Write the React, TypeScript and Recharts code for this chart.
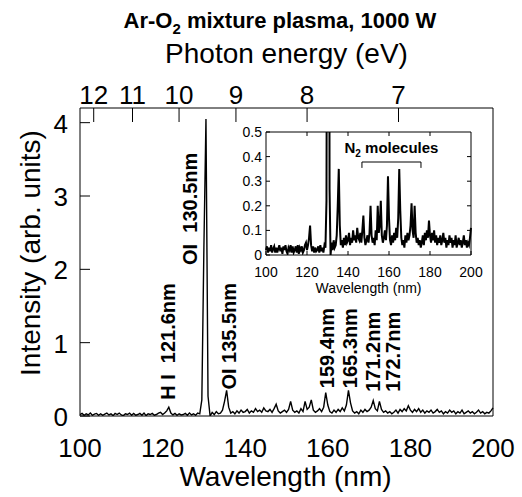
import React from 'react';
import { LineChart, Line, XAxis, YAxis, ReferenceDot, ReferenceLine } from 'recharts';

const FONT = '"Liberation Sans", Arial, Helvetica, sans-serif';

// wavelength grid, 0.5 nm steps 100..200
const wavelengths: number[] = Array.from({ length: 201 }, (_, i) => 100 + i * 0.5);

// intensity (arb. units), 10 values per 5 nm
const intensity: number[] = [
  0.02, 0.035, 0.01, 0.03, 0.015, 0.04, 0.01, 0.025, 0.035, 0.01, // 100
  0.03, 0.01, 0.025, 0.04, 0.015, 0.03, 0.005, 0.035, 0.02, 0.04, // 105
  0.015, 0.005, 0.03, 0.02, 0.04, 0.01, 0.035, 0.01, 0.02, 0.035, // 110
  0.01, 0.04, 0.005, 0.03, 0.02, 0.035, 0.01, 0.02, 0.04, 0.05,   // 115
  0.02, 0.04, 0.07, 0.12, 0.04, 0.015, 0.035, 0.01, 0.03, 0.015,  // 120
  0.02, 0.035, 0.01, 0.04, 0.015, 0.03, 0.01, 0.04, 0.03, 0.22,   // 125
  2.3, 4.05, 0.27, 0.0, 0.05, 0.02, 0.06, 0.03, 0.04, 0.08,       // 130
  0.2, 0.35, 0.12, 0.04, 0.06, 0.03, 0.07, 0.04, 0.08, 0.05,      // 135
  0.06, 0.09, 0.04, 0.07, 0.05, 0.1, 0.06, 0.08, 0.05, 0.11,      // 140
  0.07, 0.06, 0.09, 0.05, 0.1, 0.16, 0.07, 0.04, 0.06, 0.08,      // 145
  0.05, 0.09, 0.2, 0.08, 0.05, 0.07, 0.04, 0.1, 0.06, 0.2,        // 150
  0.09, 0.12, 0.22, 0.08, 0.05, 0.07, 0.1, 0.06, 0.12, 0.32,      // 155
  0.15, 0.06, 0.04, 0.08, 0.05, 0.09, 0.06, 0.11, 0.07, 0.15,     // 160
  0.35, 0.18, 0.07, 0.04, 0.06, 0.03, 0.08, 0.05, 0.09, 0.06,     // 165
  0.08, 0.12, 0.21, 0.1, 0.07, 0.2, 0.09, 0.05, 0.07, 0.04,       // 170
  0.06, 0.03, 0.05, 0.08, 0.04, 0.09, 0.06, 0.1, 0.07, 0.14,      // 175
  0.08, 0.05, 0.09, 0.06, 0.1, 0.05, 0.08, 0.04, 0.07, 0.05,      // 180
  0.08, 0.04, 0.06, 0.09, 0.05, 0.07, 0.03, 0.06, 0.04, 0.08,     // 185
  0.05, 0.07, 0.03, 0.06, 0.04, 0.08, 0.03, 0.05, 0.07, 0.04,     // 190
  0.06, 0.03, 0.05, 0.08, 0.04, 0.06, 0.03, 0.05, 0.04, 0.07,     // 195
  0.11,                                                           // 200
];

const wlTicks = [100, 120, 140, 160, 180, 200];
const yTicks = [0, 1, 2, 3, 4];
const insetYTicks = [0, 0.1, 0.2, 0.3, 0.4, 0.5];
const energyTicksEV = [12, 11, 10, 9, 8, 7];
const energyTickWl = energyTicksEV.map((e) => 1239.84 / e);

// line labels: text, glyph-centre wavelength, value where the text starts
const lineLabels = [
  { text: 'H I  121.6nm', wl: 121.4, y: 0.22 },
  { text: 'OI  130.5nm', wl: 126.6, y: 2.06 },
  { text: 'OI 135.5nm', wl: 136.2, y: 0.36 },
  { text: '159.4nm', wl: 159.8, y: 0.38 },
  { text: '165.3nm', wl: 165.4, y: 0.38 },
  { text: '171.2nm', wl: 170.9, y: 0.33 },
  { text: '172.7nm', wl: 175.8, y: 0.33 },
];

// N2 bracket in the inset
const n2Range = [146.8, 175.6];
const n2BracketY = 0.378;
const n2EndY = 0.354;

const table = wavelengths.map((wl, i) => ({ wl, intensity: intensity[i] }));

const txt = { fontFamily: FONT, fill: '#000' };

const mainBottomTick = (p: any) => (
  <text x={p.x} y={p.y + 41} textAnchor="middle" fontSize={26} {...txt}>{p.payload.value}</text>
);
const mainLeftTick = (p: any) => (
  <g>
    <line x1={p.x} x2={p.x + 10} y1={p.y} y2={p.y} stroke="#000" />
    <text x={p.x - 12} y={p.y + 1} textAnchor="end" dominantBaseline="central" fontSize={26} {...txt}>{p.payload.value}</text>
  </g>
);
const mainTopTick = (p: any) => (
  <g>
    <line x1={p.x} x2={p.x} y1={p.y} y2={p.y + 14} stroke="#000" />
    <text x={p.x} y={p.y - 4} textAnchor="middle" fontSize={26} {...txt}>
      {Math.round(1239.84 / p.payload.value)}
    </text>
  </g>
);

const insetBottomTick = (p: any) => (
  <g>
    <line x1={p.x} x2={p.x} y1={p.y} y2={p.y - 4} stroke="#000" />
    <text x={p.x} y={p.y + 22} textAnchor="middle" fontSize={14} {...txt}>{p.payload.value}</text>
  </g>
);
const insetTopTick = (p: any) => <line x1={p.x} x2={p.x} y1={p.y} y2={p.y + 4} stroke="#000" />;
const insetLeftTick = (p: any) => (
  <g>
    <line x1={p.x} x2={p.x + 4} y1={p.y} y2={p.y} stroke="#000" />
    <text x={p.x - 4} y={p.y} textAnchor="end" dominantBaseline="central" fontSize={14} {...txt}>{p.payload.value}</text>
  </g>
);
const insetRightTick = (p: any) => <line x1={p.x} x2={p.x - 4} y1={p.y} y2={p.y} stroke="#000" />;

const rotatedLabel = (text: string) => (p: any) => (
  <text
    x={p.cx}
    y={p.cy}
    transform={`rotate(-90 ${p.cx} ${p.cy})`}
    dominantBaseline="central"
    fontSize={20}
    fontWeight="bold"
    style={{ whiteSpace: 'pre' }}
    {...txt}
  >
    {text}
  </text>
);

const n2Label = (p: any) => (
  <text x={p.cx} y={p.cy} textAnchor="middle" fontSize={15} fontWeight="bold" {...txt}>
    N<tspan dy={4} fontSize={10}>2</tspan>
    <tspan dy={-4}> molecules</tspan>
  </text>
);

const axisLine = { stroke: '#000', strokeWidth: 1 };

export default function App() {
  return (
    <div style={{ position: 'absolute', left: 0, top: 0, width: 522, height: 497, background: '#fff' }}>
      <LineChart width={522} height={497} data={table} margin={{ top: 107, right: 28, bottom: 80, left: 79 }}>
        <XAxis xAxisId="b" dataKey="wl" type="number" domain={[100, 200]} ticks={wlTicks} interval={0}
          height={1} tickSize={0} tickMargin={0} tickLine={false} axisLine={axisLine} tick={mainBottomTick} />
        <XAxis xAxisId="t" dataKey="wl" orientation="top" type="number" domain={[100, 200]} ticks={energyTickWl} interval={0}
          allowDataOverflow height={1} tickSize={0} tickMargin={0} tickLine={false} axisLine={axisLine} tick={mainTopTick} />
        <YAxis yAxisId="l" type="number" domain={[0, 4.2]} ticks={yTicks} interval={0} allowDataOverflow
          width={1} tickSize={0} tickMargin={0} tickLine={false} axisLine={axisLine} tick={mainLeftTick} />
        <YAxis yAxisId="r" orientation="right" type="number" domain={[0, 4.2]} allowDataOverflow
          width={1} tickLine={false} axisLine={axisLine} tick={false} />
        <Line xAxisId="b" yAxisId="l" dataKey="intensity" type="linear" stroke="#000" strokeWidth={1.4}
          dot={false} isAnimationActive={false} />
        {/* binds the photon-energy axis to the same wavelength data; draws nothing */}
        <Line xAxisId="t" yAxisId="r" dataKey="intensity" stroke="none" dot={false} activeDot={false}
          legendType="none" isAnimationActive={false} />
        {lineLabels.map((l) => (
          <ReferenceDot key={l.text} xAxisId="b" yAxisId="l" x={l.wl} y={l.y} shape={rotatedLabel(l.text)} />
        ))}
      </LineChart>

      <div style={{ position: 'absolute', left: 230, top: 110 }}>
        <LineChart width={260} height={200} data={table} margin={{ top: 21, right: 18, bottom: 54, left: 35 }}>
          <XAxis xAxisId="b" dataKey="wl" type="number" domain={[100, 200]} ticks={wlTicks} interval={0}
            height={1} tickSize={0} tickMargin={0} tickLine={false} axisLine={axisLine} tick={insetBottomTick} />
          <XAxis xAxisId="t" dataKey="wl" orientation="top" type="number" domain={[100, 200]} ticks={wlTicks.slice(1, -1)} interval={0}
            allowDataOverflow height={1} tickSize={0} tickMargin={0} tickLine={false} axisLine={axisLine} tick={insetTopTick} />
          <YAxis yAxisId="l" type="number" domain={[0, 0.5]} ticks={insetYTicks} interval={0} allowDataOverflow
            width={1} tickSize={0} tickMargin={0} tickLine={false} axisLine={axisLine} tick={insetLeftTick} />
          <YAxis yAxisId="r" orientation="right" type="number" domain={[0, 0.5]} ticks={insetYTicks.slice(1, -1)} interval={0}
            allowDataOverflow width={1} tickSize={0} tickMargin={0} tickLine={false} axisLine={axisLine} tick={insetRightTick} />
          <Line xAxisId="b" yAxisId="l" dataKey="intensity" type="linear" stroke="#000" strokeWidth={2}
            dot={false} isAnimationActive={false} />
          <Line xAxisId="t" yAxisId="r" dataKey="intensity" stroke="none" dot={false} activeDot={false}
            legendType="none" isAnimationActive={false} />
          <ReferenceLine xAxisId="b" yAxisId="l" stroke="#000"
            segment={[{ x: n2Range[0], y: n2BracketY }, { x: n2Range[1], y: n2BracketY }]} />
          <ReferenceLine xAxisId="b" yAxisId="l" stroke="#000"
            segment={[{ x: n2Range[0], y: n2BracketY }, { x: n2Range[0], y: n2EndY }]} />
          <ReferenceLine xAxisId="b" yAxisId="l" stroke="#000"
            segment={[{ x: n2Range[1], y: n2BracketY }, { x: n2Range[1], y: n2EndY }]} />
          <ReferenceDot xAxisId="b" yAxisId="l" x={(n2Range[0] + n2Range[1]) / 2} y={0.415} shape={n2Label} />
        </LineChart>
      </div>

      <svg width={522} height={497} style={{ position: 'absolute', left: 0, top: 0, pointerEvents: 'none' }}>
        <text x={280} y={28} textAnchor="middle" fontSize={22} fontWeight="bold" {...txt}>
          Ar-O<tspan dy={6} fontSize={15}>2</tspan>
          <tspan dy={-6}> mixture plasma, 1000 W</tspan>
        </text>
        <text x={286.5} y={63} textAnchor="middle" fontSize={28} {...txt}>Photon energy (eV)</text>
        <text x={285.5} y={486} textAnchor="middle" fontSize={28} {...txt}>Wavelength (nm)</text>
        <text x={30} y={253} textAnchor="middle" dominantBaseline="central" fontSize={28}
          transform="rotate(-90 30 253)" {...txt}>Intensity (arb. units)</text>
        <text x={368.5} y={293} textAnchor="middle" fontSize={14} {...txt}>Wavelength (nm)</text>
      </svg>
    </div>
  );
}
